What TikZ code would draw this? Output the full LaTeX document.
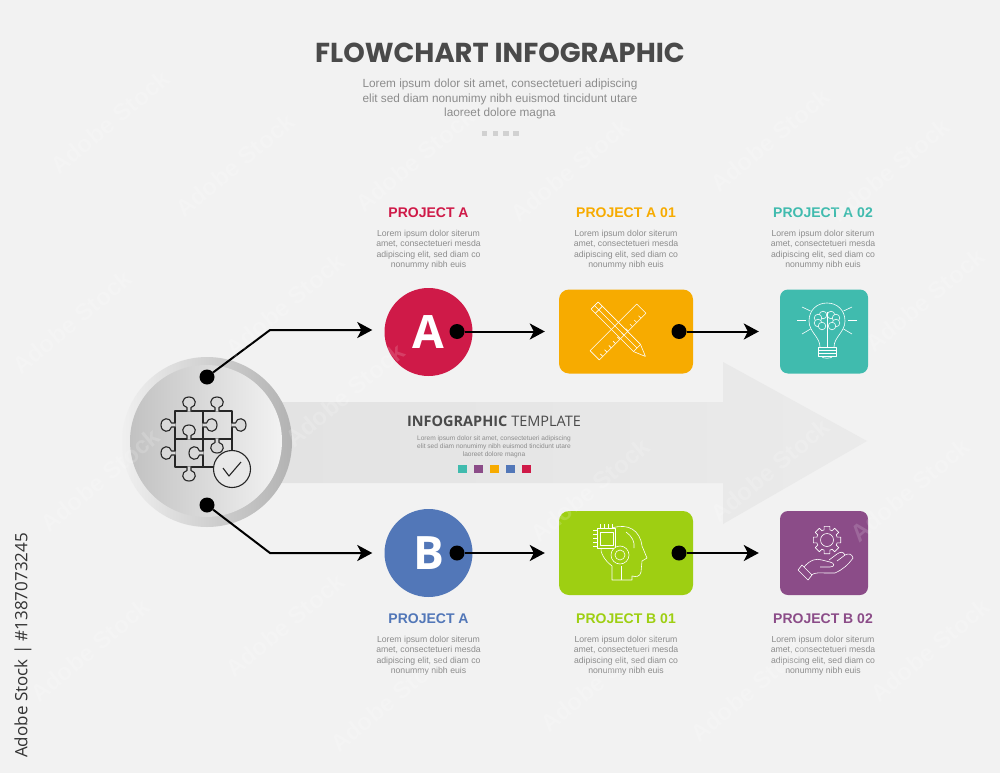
\documentclass[tikz,border=0pt]{standalone}
\usepackage{fontspec}
\usetikzlibrary{arrows.meta}
\setmainfont{Liberation Sans}
\newfontfamily\titlefont{Poppins}
\newfontfamily\opensans{Open Sans}
\definecolor{bgcol}{HTML}{F2F2F2}
\definecolor{crimson}{HTML}{CF1A48}
\definecolor{blueb}{HTML}{5277B8}
\definecolor{orangea}{HTML}{F7AB00}
\definecolor{greenb}{HTML}{9ECF12}
\definecolor{teala}{HTML}{40BBAE}
\definecolor{purpleb}{HTML}{8B4C88}
\definecolor{graytext}{HTML}{8C8C8C}
\definecolor{darktext}{HTML}{4A4A4A}
\newcommand{\lorembody}{Lorem ipsum dolor siterum\\amet, consectetueri mesda\\adipiscing elit, sed diam co\\nonummy nibh euis}
\newcommand{\loremhead}{Lorem ipsum dolor sit amet, consectetueri adipiscing\\elit sed diam nonumimy nibh euismod tincidunt utare\\laoreet dolore magna}

\begin{document}
\begin{tikzpicture}[x=1pt,y=-1pt,
   bodytext/.style={align=center,text=graytext,inner sep=0pt,font=\fontsize{8.7}{10.5}\selectfont},
   headtext/.style={inner sep=0pt,font=\fontsize{14}{16}\selectfont\bfseries},
   letter/.style={circle,minimum size=88pt,inner sep=0pt,text=white,font=\opensans\fontsize{46}{46}\selectfont\bfseries},
   wide/.style={rounded corners=10pt,minimum width=134pt,minimum height=84pt,inner sep=0pt},
   narrow/.style={rounded corners=8pt,minimum width=88pt,minimum height=84pt,inner sep=0pt},
   blackdot/.style={circle,fill=black,minimum size=15pt,inner sep=0pt},
   link/.style={line width=2pt,-{Stealth[length=15pt,width=16pt,inset=4pt]}},
   puzzle/.style={line width=1.1pt,draw=black!85,line join=round},
   outline/.style={line width=0.6pt,draw=white,line join=round},
   tinysq/.style={minimum size=8.5pt,inner sep=0pt},
   dotsq/.style={minimum size=5.5pt,inner sep=0pt,fill=black!18},
   stamp/.style={rotate=40,text=white,opacity=0.16,font=\fontsize{24}{24}\selectfont\bfseries}]
   \useasboundingbox (0,0) rectangle (1000,773);
   \fill[bgcol] (0,0) rectangle (1000,773);
   % big arrow
   \path[left color=black!11,right color=black!8] (280,402) -- (723,402) -- (723,362) -- (867,441) -- (723,524) -- (723,483) -- (280,483) -- cycle;
   % title
   \node[inner sep=0pt,text=darktext,font=\titlefont\fontsize{27.4}{27.4}\selectfont\bfseries] (title) at (500,53) {FLOWCHART INFOGRAPHIC};
   \node[inner sep=0pt,align=center,text=graytext,font=\fontsize{11.8}{14.5}\selectfont] (subtitle) at (500,99) {\loremhead};
   \node[dotsq] (da) at (484.5,133.5) {};
   \node[dotsq] (db) at (495.5,133.5) {};
   \node[dotsq] (dc) at (506,133.5) {};
   \node[dotsq] (dd) at (516,133.5) {};
   % hub
   \shade[left color=black!6,right color=black!30] (207,442) circle (85);
   \shade[left color=black!24,right color=black!5] (206,441) circle (76);
   \node[blackdot] (hubup) at (207,377) {};
   \node[blackdot] (hubdown) at (207,505) {};
   % puzzle
   \draw[puzzle] (175,411) rectangle (203,439);
   \draw[puzzle] (203,411) rectangle (232,439);
   \draw[puzzle] (175,439) rectangle (203,467);
   \draw[puzzle] (203,439) rectangle (232,467);
   \foreach \px/\py/\pa in {189/411/0,217/411/0,175/425/90,175/453/90,232/425/270,203/425/270,189/439/0,203/453/90,217/439/180,189/467/180}
      \draw[puzzle,fill=black!15,shift={(\px,\py)},rotate=\pa] (-2,0.6) -- (-2,-3.5) .. controls (-8,-4.5) and (-8,-14) .. (0,-14) .. controls (8,-14) and (8,-4.5) .. (2,-3.5) -- (2,0.6);
   \draw[puzzle,fill=black!9] (232,469) circle (18.5);
   \draw[puzzle] (223,468) -- (229,476) -- (241,462);
   % arrows out of hub
   \coordinate (bendup) at (270,330);
   \coordinate (benddown) at (270,553);
   % row A
   \node[headtext,text=crimson] (labela) at (428.5,212.5) {PROJECT A};
   \node[headtext,text=orangea] (labelao) at (626,212.5) {PROJECT A 01};
   \node[headtext,text=teala] (labelat) at (823,212.5) {PROJECT A 02};
   \node[bodytext] (bodya) at (428.5,249.5) {\lorembody};
   \node[bodytext] (bodyao) at (626,249.5) {\lorembody};
   \node[bodytext] (bodyat) at (823,249.5) {\lorembody};
   \node[letter,fill=crimson] (nodea) at (428.5,332) {A};
   \node[wide,fill=orangea] (boxao) at (626,331.5) {};
   \node[narrow,fill=teala] (boxat) at (824,331.5) {};
   \node[blackdot] (dota) at (457,331.5) {};
   \node[blackdot] (dotao) at (679,331.5) {};
   % row B
   \node[headtext,text=blueb] (labelb) at (428.5,618.5) {PROJECT A};
   \node[headtext,text=greenb] (labelbo) at (626,618.5) {PROJECT B 01};
   \node[headtext,text=purpleb] (labelbt) at (823,618.5) {PROJECT B 02};
   \node[bodytext] (bodyb) at (428.5,655.5) {\lorembody};
   \node[bodytext] (bodybo) at (626,655.5) {\lorembody};
   \node[bodytext] (bodybt) at (823,655.5) {\lorembody};
   \node[letter,fill=blueb] (nodeb) at (428.5,553) {B};
   \node[wide,fill=greenb] (boxbo) at (626,553) {};
   \node[narrow,fill=purpleb] (boxbt) at (824,553) {};
   \node[blackdot] (dotb) at (457,553) {};
   \node[blackdot] (dotbo) at (679,553) {};
   % connectors
   \draw[link,shorten >=12pt] (hubup) -- (bendup) -- (bendup -| nodea.west);
   \draw[link,shorten >=12pt] (hubdown) -- (benddown) -- (nodeb.west);
   \draw[link,shorten >=14pt] (dota) -- (boxao.west);
   \draw[link,shorten >=21pt] (dotao) -- (boxat.west);
   \draw[link,shorten >=14pt] (dotb) -- (boxbo.west);
   \draw[link,shorten >=21pt] (dotbo) -- (boxbt.west);
   % center text
   \node[inner sep=0pt,text=darktext,font=\opensans\fontsize{14.5}{16}\selectfont] (midtitle) at (494,421) {\textbf{INFOGRAPHIC} TEMPLATE};
   \node[inner sep=0pt,align=center,text=graytext,font=\fontsize{6.6}{8}\selectfont] (midtext) at (494,447) {\loremhead};
   \node[tinysq,fill=teala] (sqa) at (462.5,469) {};
   \node[tinysq,fill=purpleb] (sqb) at (478.5,469) {};
   \node[tinysq,fill=orangea] (sqc) at (494.5,469) {};
   \node[tinysq,fill=blueb] (sqd) at (510.5,469) {};
   \node[tinysq,fill=crimson] (sqe) at (526.5,469) {};
   % ruler and pencil
   \begin{scope}[shift={(618,332)},rotate=45]
      \draw[outline] (-33,-6.5) rectangle (33,6.5);
      \foreach \tx in {-28,-22,...,28}
         \draw[outline] (\tx,6.5) -- (\tx,3);
   \end{scope}
   \begin{scope}[shift={(620,331)},rotate=-45]
      \draw[outline] (-36,-5) -- (24,-5) -- (36,0) -- (24,5) -- (-36,5) -- cycle;
      \draw[outline] (-30,-5) -- (-30,5);
      \draw[outline] (-36,0) -- (24,0);
      \draw[outline] (24,-5) -- (24,5);
   \end{scope}
   % bulb
   \begin{scope}[shift={(827,321)}]
      \draw[outline] (-7,26) .. controls (-7,16) and (-18,11) .. (-18,0) .. controls (-18,-11) and (-10,-18) .. (0,-18) .. controls (10,-18) and (18,-11) .. (18,0) .. controls (18,11) and (7,16) .. (7,26);
      \draw[outline] (-9,26) rectangle (9,29);
      \draw[outline] (-9,29) rectangle (9,32);
      \draw[outline] (-9,32) rectangle (9,35);
      \draw[outline] (-6,35) .. controls (-5,38) and (5,38) .. (6,35);
      \draw[outline] (0,4) -- (0,26);
      \foreach \bx/\by in {-4/-6,-9/-3,-9/2,-5/5,4/-6,9/-3,9/2,5/5}
         \draw[outline,fill=teala] (\bx,\by) circle (3.8);
      \draw[outline] (0,-9) -- (0,8);
      \foreach \rs in {1,-1} {
         \draw[outline] (\rs*25,-14) -- (\rs*16.5,-10);
         \draw[outline] (\rs*30,-1) -- (\rs*21,-1);
         \draw[outline] (\rs*25,13) -- (\rs*16.5,8);
      }
   \end{scope}
   % head and chip
   \draw[outline] (612,528) .. controls (628,523) and (640,530) .. (642,546) -- (647,558) -- (642,561) -- (641,572) .. controls (640,577) and (636,577) .. (632,576) -- (632,580) -- (612,580) -- (612,566) .. controls (604,560) and (600,552) .. (601,547);
   \draw[outline] (626,532) .. controls (632,536) and (635,542) .. (634,548);
   \draw[outline] (621,566) -- (621,580);
   \draw[outline,fill=greenb] (597,528) rectangle (615,548);
   \draw[outline] (600,532) rectangle (613,545);
   \foreach \cy in {531,535,539,543,547}
      \draw[outline] (593,\cy-1) -- (597,\cy-1);
   \foreach \cx in {600,604,608,612}
      \draw[outline] (\cx,524) -- (\cx,528);
   \draw[outline,fill=greenb] (620,555) circle (9);
   \draw[outline] (620,555) circle (5);
   % gear and hand
   \begin{scope}[shift={(827,540)}]
      \draw[outline] (-12:14) \foreach \ga in {0,45,...,315} { -- (\ga-12:14) -- (\ga+12:14) -- (\ga+16:10.5) -- (\ga+29:10.5)} -- cycle;
      \draw[outline] (0,0) circle (6.5);
   \end{scope}
   \draw[outline] (798,570) -- (808,580) -- (812,575) -- (802,565) -- cycle;
   \draw[outline] (804,567) .. controls (810,560) and (816,558) .. (822,560) -- (830,562) .. controls (835,563) and (835,567) .. (830,567) -- (820,567);
   \draw[outline] (811,575) .. controls (816,572) and (820,573) .. (826,573) -- (835,573) .. controls (842,570) and (848,565) .. (853,558) .. controls (852,554) and (849,553) .. (845,555) -- (837,561);
   \draw[outline] (845,555) .. controls (843,551) and (840,552) .. (837,554) -- (829,560);
   % side label
   \node[rotate=90,anchor=west,inner sep=0pt,text=black!80,font=\opensans\fontsize{17}{17}\selectfont] (stock) at (23,758) {Adobe Stock | \#1387073245};
   % stock marks
   \foreach \px/\py in {110/122,235/165,285/305,72/322,100/480,285/625,90/650,415/160,570/170,770/140,890/170,925/300,345/395,590/490,770/470,910/490,930/650,750/690,600/680,390/700}
      \node[stamp] (mark\px) at (\px,\py) {Adobe Stock};
\end{tikzpicture}
\end{document}
